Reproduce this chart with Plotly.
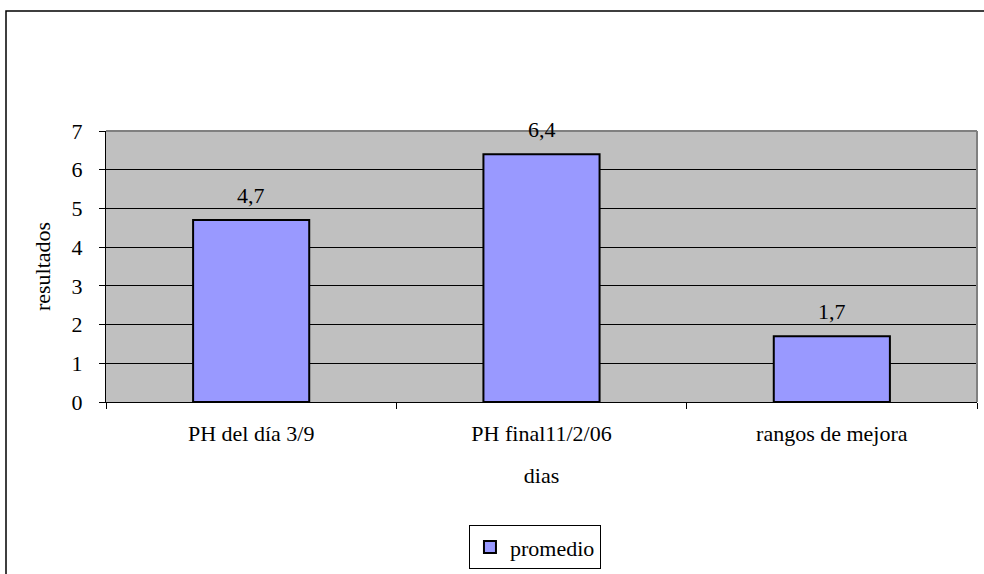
import plotly.graph_objects as go

categories = ["PH del día 3/9", "PH final11/2/06", "rangos de mejora"]
promedio = [4.7, 6.4, 1.7]
series_name = "promedio"

FONT = "Liberation Serif"
FS = 22
W, H = 984, 574
L, R, T, B = 106, 7, 131, 171
pw, ph = W - L - R, H - T - B
f = dict(family=FONT, size=FS, color="black")

fig = go.Figure()
fig.add_trace(go.Bar(
    x=categories, y=promedio, name=series_name,
    marker=dict(color="#9999FF", line=dict(color="black", width=2)),
    width=0.4,
))

for c, v in zip(categories, promedio):
    fig.add_annotation(x=c, y=v, text=f"{v:.1f}".replace(".", ","),
                       showarrow=False, yanchor="bottom", yshift=10, font=f)

fig.update_layout(
    width=W, height=H,
    margin=dict(l=L, r=R, t=T, b=B),
    paper_bgcolor="white", plot_bgcolor="#C0C0C0",
    font=f,
    showlegend=True,
    legend=dict(orientation="h", x=0.4925, xanchor="center", y=-0.53, yanchor="middle",
                bordercolor="black", borderwidth=1, bgcolor="white", font=f,
                itemwidth=30),
    xaxis=dict(tickson="boundaries", ticks="outside", ticklen=6, tickcolor="black",
               tickfont=f, ticklabelstandoff=12,
               showline=True, linecolor="black", linewidth=1, showgrid=False,
               title=dict(text="dias", standoff=22, font=f)),
    yaxis=dict(range=[0, 7], dtick=1, ticks="outside", ticklen=6, tickcolor="black",
               tickfont=f, ticklabelstandoff=12,
               showline=True, linecolor="black", linewidth=1,
               showgrid=True, gridcolor="black", gridwidth=1, zeroline=False,
               title=dict(text="resultados", standoff=14, font=f)),
    shapes=[
        dict(type="line", xref="paper", yref="paper", x0=0, x1=1, y0=1, y1=1,
             line=dict(color="#808080", width=2)),
        dict(type="line", xref="paper", yref="paper", x0=1, x1=1, y0=0, y1=1,
             line=dict(color="#808080", width=2)),
        dict(type="rect", xref="paper", yref="paper",
             x0=(6 - L) / pw, x1=1.2, y0=-1.0, y1=1 + (T - 10.5) / ph,
             line=dict(color="black", width=1.5), fillcolor="rgba(0,0,0,0)"),
    ],
)

fig.write_html("out.html", config={"displayModeBar": False},
               post_script="document.body.style.margin='0';")
